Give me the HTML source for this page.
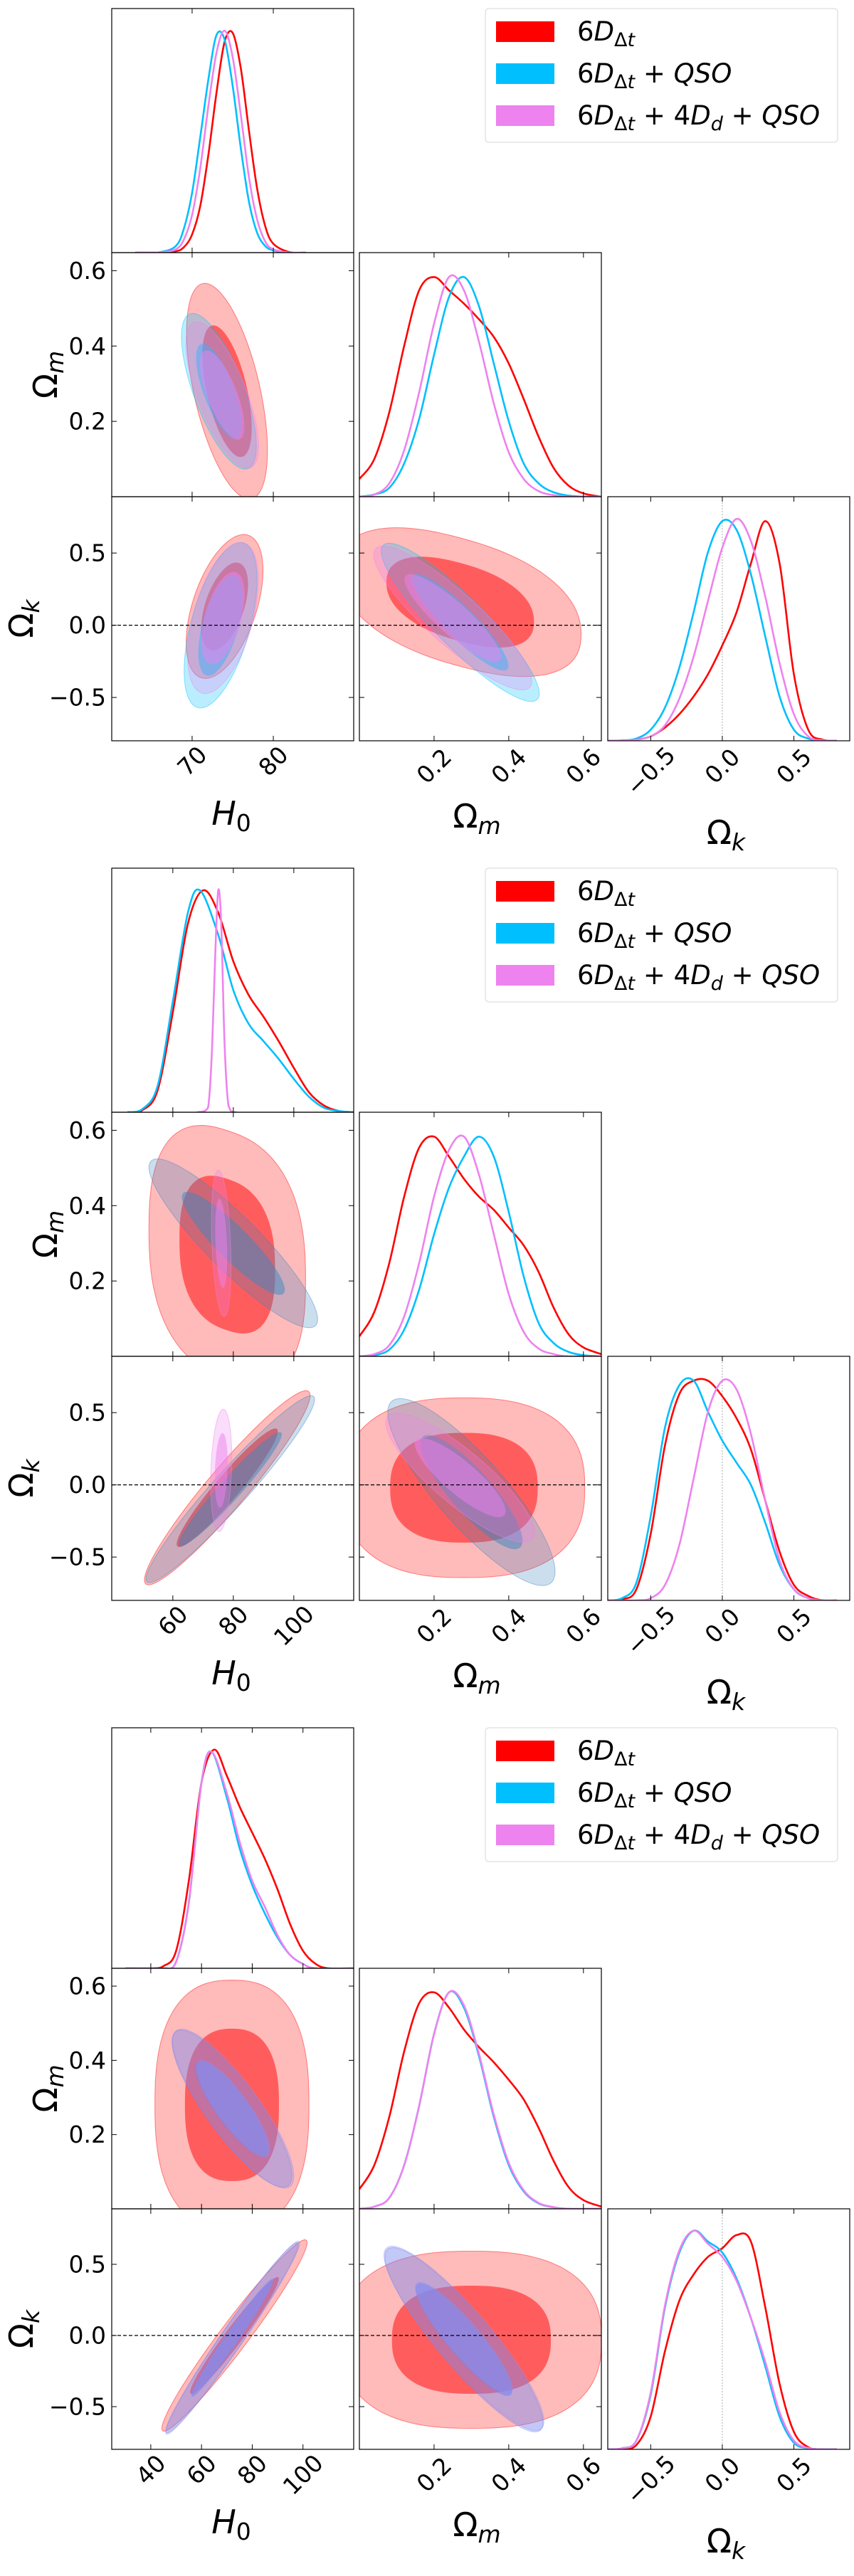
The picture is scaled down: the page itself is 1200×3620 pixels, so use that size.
<!DOCTYPE html>
<html><head><meta charset="utf-8"><style>
html,body{margin:0;padding:0;background:#fff;}
svg{display:block;font-family:"DejaVu Sans","Liberation Sans",sans-serif;}
</style></head><body>
<svg id="root" width="1200" height="3620" viewBox="0 0 1200 3620" xmlns="http://www.w3.org/2000/svg"></svg>
<script>
// ---------- DATA ----------
const figTops = [12, 1220, 2428];
const figPanelH = [343, 343, 338];
const h0Ranges = [[60.1, 89.9], [39.8, 119.8], [24.6, 120]];
const h0Ticks = [[70, 80], [60, 80, 100], [40, 60, 80, 100]];
const omRange = [0, 0.648];
const okRange = [-0.8, 0.89];
const omTicks = [0.2, 0.4, 0.6];
const okTicks = [-0.5, 0, 0.5];
const omTickLabels = ["0.2", "0.4", "0.6"];
const okTickLabels = ["\u22120.5", "0.0", "0.5"];
const seriesNames = ["red", "blue", "violet"];
const lineColors = ["#ff0000", "#00bfff", "#ee82ee"];
const fillColors = [["#ff0000", "#00bfff", "#ee82ee"], ["#ff0000", "#3f86c0", "#ee82ee"], ["#ff0000", "#7080ee", "#8a90f0"]];

// 1D marginals: [x, density] pairs
const f1_H0_red = [[63,0],[66,0.0002],[68,0.006],[69,0.025],[70,0.082],[71,0.21],[72,0.44],[73,0.72],[74,0.95],[75,0.99],[76,0.83],[77,0.55],[78,0.29],[79,0.12],[80,0.04],[82,0.002],[84,0]];
const f1_H0_blue = [[63,0],[66,0.002],[68,0.03],[69,0.11],[70,0.27],[71,0.52],[72,0.78],[73,0.98],[74,0.96],[75,0.75],[76,0.47],[77,0.23],[78,0.09],[79,0.03],[80,0.01],[82,0],[84,0]];
const f1_H0_violet = [[63,0],[66,0.001],[68,0.015],[69,0.06],[70,0.17],[71,0.38],[72,0.66],[73,0.9],[74,1],[75,0.88],[76,0.62],[77,0.34],[78,0.15],[79,0.05],[80,0.015],[82,0],[84,0]];
const f1_Om_red = [[0,0.08],[0.04,0.17],[0.08,0.38],[0.12,0.68],[0.16,0.93],[0.2,0.99],[0.24,0.93],[0.28,0.87],[0.32,0.8],[0.36,0.72],[0.4,0.6],[0.44,0.44],[0.48,0.27],[0.52,0.13],[0.56,0.05],[0.6,0.015],[0.648,0]];
const f1_Om_blue = [[0,0],[0.04,0.01],[0.08,0.04],[0.12,0.15],[0.16,0.35],[0.2,0.64],[0.24,0.9],[0.28,0.99],[0.32,0.86],[0.36,0.6],[0.4,0.34],[0.44,0.15],[0.48,0.06],[0.52,0.02],[0.56,0.005],[0.6,0],[0.648,0]];
const f1_Om_violet = [[0,0],[0.04,0.01],[0.08,0.06],[0.12,0.21],[0.16,0.47],[0.2,0.78],[0.24,0.99],[0.28,0.93],[0.32,0.7],[0.36,0.42],[0.4,0.2],[0.44,0.08],[0.48,0.025],[0.52,0.007],[0.56,0],[0.6,0],[0.648,0]];
const f1_Ok_red = [[-0.8,0],[-0.7,0.001],[-0.6,0.005],[-0.5,0.02],[-0.4,0.06],[-0.3,0.12],[-0.2,0.2],[-0.1,0.3],[0,0.43],[0.1,0.58],[0.2,0.8],[0.3,0.99],[0.4,0.8],[0.5,0.3],[0.6,0.05],[0.7,0.005],[0.8,0]];
const f1_Ok_blue = [[-0.8,0],[-0.7,0.002],[-0.6,0.01],[-0.5,0.05],[-0.4,0.15],[-0.3,0.33],[-0.2,0.58],[-0.1,0.85],[0,0.99],[0.1,0.95],[0.2,0.75],[0.3,0.47],[0.4,0.2],[0.5,0.05],[0.6,0.01],[0.7,0],[0.8,0]];
const f1_Ok_violet = [[-0.8,0],[-0.7,0.001],[-0.6,0.005],[-0.5,0.02],[-0.4,0.07],[-0.3,0.19],[-0.2,0.38],[-0.1,0.63],[0,0.87],[0.1,1],[0.2,0.9],[0.3,0.65],[0.4,0.35],[0.5,0.12],[0.6,0.02],[0.7,0.002],[0.8,0]];

const f2_H0_red = [[45,0],[50,0.01],[55,0.1],[60,0.45],[65,0.85],[70,1],[75,0.9],[80,0.68],[85,0.53],[90,0.43],[95,0.32],[100,0.2],[105,0.09],[110,0.03],[115,0.005],[120,0]];
const f2_H0_blue = [[45,0],[50,0.015],[55,0.12],[60,0.5],[65,0.9],[69,1],[75,0.8],[80,0.55],[85,0.4],[90,0.32],[95,0.24],[100,0.15],[105,0.07],[110,0.02],[115,0.005],[120,0]];
const f2_H0_violet = [[68,0],[71,0.01],[72,0.06],[73,0.3],[74,0.7],[75,1],[76,0.85],[77,0.35],[78,0.08],[79,0.01],[81,0]];
const f2_Om_red = [[0,0.09],[0.04,0.2],[0.08,0.42],[0.12,0.72],[0.16,0.94],[0.2,0.99],[0.24,0.9],[0.28,0.8],[0.32,0.72],[0.36,0.66],[0.4,0.58],[0.44,0.5],[0.48,0.38],[0.52,0.22],[0.56,0.1],[0.6,0.04],[0.648,0.01]];
const f2_Om_blue = [[0,0],[0.04,0.005],[0.08,0.03],[0.12,0.12],[0.16,0.3],[0.2,0.55],[0.24,0.76],[0.28,0.9],[0.32,0.99],[0.36,0.9],[0.4,0.65],[0.44,0.36],[0.48,0.15],[0.52,0.06],[0.56,0.02],[0.6,0.005],[0.648,0]];
const f2_Om_violet = [[0,0],[0.04,0.01],[0.08,0.05],[0.12,0.18],[0.16,0.42],[0.2,0.72],[0.24,0.93],[0.28,0.99],[0.32,0.82],[0.36,0.55],[0.4,0.28],[0.44,0.11],[0.48,0.035],[0.52,0.01],[0.56,0],[0.648,0]];
const f2_Ok_red = [[-0.8,0],[-0.7,0.005],[-0.6,0.05],[-0.5,0.3],[-0.4,0.7],[-0.3,0.93],[-0.2,0.99],[-0.1,0.99],[0,0.92],[0.1,0.82],[0.2,0.68],[0.3,0.45],[0.4,0.22],[0.5,0.07],[0.6,0.02],[0.7,0],[0.8,0]];
const f2_Ok_blue = [[-0.8,0],[-0.7,0.01],[-0.6,0.08],[-0.5,0.38],[-0.4,0.78],[-0.3,0.97],[-0.2,0.99],[-0.1,0.85],[0,0.72],[0.1,0.62],[0.2,0.52],[0.3,0.35],[0.4,0.16],[0.5,0.05],[0.6,0.01],[0.7,0],[0.8,0]];
const f2_Ok_violet = [[-0.8,0],[-0.6,0],[-0.5,0.01],[-0.4,0.07],[-0.3,0.25],[-0.2,0.55],[-0.1,0.85],[0,0.99],[0.1,0.95],[0.2,0.75],[0.3,0.45],[0.4,0.18],[0.5,0.05],[0.6,0.01],[0.7,0],[0.8,0]];

const f3_H0_red = [[30,0],[40,0],[45,0.01],[50,0.08],[55,0.4],[60,0.85],[65,1],[70,0.88],[75,0.74],[80,0.62],[85,0.5],[90,0.36],[95,0.2],[100,0.08],[105,0.02],[110,0],[120,0]];
const f3_H0_blue = [[30,0],[40,0],[45,0],[50,0.03],[55,0.3],[60,0.85],[64,0.99],[70,0.78],[75,0.55],[80,0.38],[85,0.25],[90,0.14],[95,0.06],[100,0.02],[105,0],[120,0]];
const f3_H0_violet = [[30,0],[40,0],[45,0],[50,0.03],[55,0.3],[60,0.85],[64,0.99],[70,0.8],[75,0.58],[80,0.4],[85,0.28],[90,0.15],[95,0.06],[100,0.02],[105,0],[120,0]];
const f3_Om_red = [[0,0.09],[0.04,0.2],[0.08,0.42],[0.12,0.72],[0.16,0.94],[0.2,0.99],[0.24,0.92],[0.28,0.82],[0.32,0.74],[0.36,0.67],[0.4,0.59],[0.44,0.5],[0.48,0.37],[0.52,0.22],[0.56,0.1],[0.6,0.04],[0.648,0.01]];
const f3_Om_blue = [[0,0],[0.04,0.01],[0.08,0.05],[0.12,0.2],[0.16,0.47],[0.2,0.8],[0.24,0.99],[0.28,0.92],[0.32,0.7],[0.36,0.42],[0.4,0.2],[0.44,0.08],[0.48,0.025],[0.52,0.007],[0.56,0],[0.648,0]];
const f3_Om_violet = [[0,0],[0.04,0.01],[0.08,0.05],[0.12,0.2],[0.16,0.47],[0.2,0.8],[0.24,0.99],[0.28,0.93],[0.32,0.71],[0.36,0.43],[0.4,0.21],[0.44,0.085],[0.48,0.027],[0.52,0.008],[0.56,0],[0.648,0]];
const f3_Ok_red = [[-0.8,0],[-0.7,0.002],[-0.6,0.02],[-0.5,0.15],[-0.4,0.45],[-0.3,0.68],[-0.2,0.8],[-0.1,0.88],[0,0.92],[0.1,0.98],[0.2,0.95],[0.3,0.65],[0.4,0.3],[0.5,0.08],[0.6,0.01],[0.7,0],[0.8,0]];
const f3_Ok_blue = [[-0.8,0],[-0.7,0.005],[-0.6,0.04],[-0.5,0.25],[-0.4,0.65],[-0.3,0.9],[-0.2,1],[-0.1,0.95],[0,0.9],[0.1,0.78],[0.2,0.6],[0.3,0.38],[0.4,0.15],[0.5,0.03],[0.6,0.005],[0.7,0],[0.8,0]];
const f3_Ok_violet = [[-0.8,0],[-0.7,0.005],[-0.6,0.04],[-0.5,0.26],[-0.4,0.66],[-0.3,0.91],[-0.2,1],[-0.1,0.94],[0,0.88],[0.1,0.77],[0.2,0.6],[0.3,0.4],[0.4,0.17],[0.5,0.04],[0.6,0.006],[0.7,0],[0.8,0]];

// 2D contours: [centerX, centerY, sigmaX, sigmaY, correlation, squareness]
const f1_H0Om = [[74.3,0.28,2.0,0.115,-0.55,2],[73.3,0.28,1.85,0.083,-0.7,2],[73.7,0.27,1.8,0.078,-0.7,2]];
const f1_H0Ok = [[74.0,0.13,1.9,0.2,0.5,2],[73.5,0.0,1.8,0.23,0.55,2],[73.8,0.05,1.75,0.21,0.5,2]];
const f1_OmOk = [[0.27,0.16,0.13,0.2,-0.45,2.3],[0.27,0.02,0.085,0.22,-0.9,2],[0.25,0.05,0.085,0.2,-0.88,2]];
const f2_H0Om = [[78,0.27,10.4,0.135,-0.2,2.5],[80,0.3,11.2,0.09,-0.9,2],[76,0.3,1.3,0.078,-0.3,2]];
const f2_H0Ok = [[78,-0.02,11,0.27,0.95,2],[79,-0.03,11.2,0.26,0.96,2],[76,0.1,1.4,0.17,0.2,2]];
const f2_OmOk = [[0.28,-0.02,0.13,0.25,0,2.5],[0.3,-0.05,0.09,0.26,-0.85,2],[0.27,0.05,0.08,0.18,-0.85,2]];
const f3_H0Om = [[72,0.28,12.2,0.135,0,2.5],[72,0.27,9.5,0.085,-0.85,2],[72.5,0.27,9.6,0.086,-0.85,2]];
const f3_H0Ok = [[73,0,11.5,0.27,0.97,2],[72,-0.02,10.5,0.27,0.98,2],[72.3,-0.01,10.6,0.27,0.98,2]];
const f3_OmOk = [[0.3,-0.03,0.14,0.25,0,2.5],[0.28,-0.03,0.085,0.26,-0.9,2],[0.28,-0.02,0.086,0.26,-0.9,2]];

const marg = [[f1_H0_red,f1_H0_blue,f1_H0_violet],[f2_H0_red,f2_H0_blue,f2_H0_violet],[f3_H0_red,f3_H0_blue,f3_H0_violet]];
const margOm = [[f1_Om_red,f1_Om_blue,f1_Om_violet],[f2_Om_red,f2_Om_blue,f2_Om_violet],[f3_Om_red,f3_Om_blue,f3_Om_violet]];
const margOk = [[f1_Ok_red,f1_Ok_blue,f1_Ok_violet],[f2_Ok_red,f2_Ok_blue,f2_Ok_violet],[f3_Ok_red,f3_Ok_blue,f3_Ok_violet]];
const cH0Om = [f1_H0Om, f2_H0Om, f3_H0Om];
const cH0Ok = [f1_H0Ok, f2_H0Ok, f3_H0Ok];
const cOmOk = [f1_OmOk, f2_OmOk, f3_OmOk];

// ---------- DRAWING ----------
const NS = "http://www.w3.org/2000/svg";
const root = document.getElementById('root');
function mk(tag, attrs, parent) {
  const e = document.createElementNS(NS, tag);
  for (const k in attrs) e.setAttribute(k, attrs[k]);
  (parent || root).appendChild(e);
  return e;
}
const colX = [[157, 497], [505, 845], [854, 1194]];
function scale(d0, d1, p0, p1) { return v => p0 + (v - d0) / (d1 - d0) * (p1 - p0); }
function smooth(pts) {
  let d = "M" + pts[0][0].toFixed(2) + "," + pts[0][1].toFixed(2);
  for (let i = 0; i < pts.length - 1; i++) {
    const p0 = pts[Math.max(i - 1, 0)], p1 = pts[i], p2 = pts[i + 1], p3 = pts[Math.min(i + 2, pts.length - 1)];
    const c1 = [p1[0] + (p2[0] - p0[0]) / 6, p1[1] + (p2[1] - p0[1]) / 6];
    const c2 = [p2[0] - (p3[0] - p1[0]) / 6, p2[1] - (p3[1] - p1[1]) / 6];
    d += "C" + c1[0].toFixed(2) + "," + c1[1].toFixed(2) + " " + c2[0].toFixed(2) + "," + c2[1].toFixed(2) + " " + p2[0].toFixed(2) + "," + p2[1].toFixed(2);
  }
  return d;
}
function contourPath(c, k, sx, sy) {
  const [cx, cy, sdx, sdy, rho, p] = c;
  let d = "";
  for (let i = 0; i <= 120; i++) {
    const t = i / 120 * Math.PI * 2;
    const co = Math.cos(t), si = Math.sin(t);
    const u = Math.sign(co) * Math.pow(Math.abs(co), 2 / p);
    const v = Math.sign(si) * Math.pow(Math.abs(si), 2 / p);
    const x = cx + k * sdx * u;
    const y = cy + k * sdy * (rho * u + Math.sqrt(1 - rho * rho) * v);
    d += (i ? "L" : "M") + sx(x).toFixed(2) + "," + sy(y).toFixed(2);
  }
  return d + "Z";
}
let clipId = 0;
function panelFrame(g, x0, y0, x1, y1) {
  mk('rect', {x: x0, y: y0, width: x1 - x0, height: y1 - y0, fill: 'none', stroke: '#000', 'stroke-width': 1.2}, g);
}
function xTicks(g, ticks, sx, y0, y1) {
  ticks.forEach(t => {
    const x = sx(t);
    mk('line', {x1: x, x2: x, y1: y1, y2: y1 - 7, stroke: '#000', 'stroke-width': 1}, g);
    mk('line', {x1: x, x2: x, y1: y0, y2: y0 + 7, stroke: '#000', 'stroke-width': 1}, g);
  });
}
function yTicks(g, ticks, sy, x0, x1) {
  ticks.forEach(t => {
    const y = sy(t);
    mk('line', {x1: x0, x2: x0 + 7, y1: y, y2: y, stroke: '#000', 'stroke-width': 1}, g);
    mk('line', {x1: x1, x2: x1 - 7, y1: y, y2: y, stroke: '#000', 'stroke-width': 1}, g);
  });
}
function clipFor(g, x0, y0, x1, y1) {
  const id = 'clip' + (clipId++);
  const cp = mk('clipPath', {id: id}, g);
  mk('rect', {x: x0, y: y0, width: x1 - x0, height: y1 - y0}, cp);
  return mk('g', {'clip-path': 'url(#' + id + ')'}, g);
}
function draw1D(g, curves, xr, x0, y0, x1, y1, vline) {
  const sx = scale(xr[0], xr[1], x0, x1);
  const sy = scale(0, 1.1, y1, y0);
  const cg = clipFor(g, x0, y0, x1, y1);
  if (vline) {
    const vl = mk('line', {x1: sx(0), x2: sx(0), y1: y0, y2: y1, stroke: '#999', 'stroke-width': 0.8, 'stroke-dasharray': '2,2'}, cg);
    
    
  }
  curves.forEach((c, i) => {
    const pts = c.map(p => [sx(p[0]), sy(p[1])]);
    const el = mk('path', {d: smooth(pts), fill: 'none', stroke: lineColors[i], 'stroke-width': 2.6}, cg);
    
    
  });
  return sx;
}
function draw2D(g, cons, fig, xr, yr, x0, y0, x1, y1, hline) {
  const sx = scale(xr[0], xr[1], x0, x1);
  const sy = scale(yr[0], yr[1], y1, y0);
  const cg = clipFor(g, x0, y0, x1, y1);
  cons.forEach((c, i) => {
    const col = fillColors[fig][i];
    const o = mk('path', {d: contourPath(c, 2.49, sx, sy), fill: col, 'fill-opacity': 0.27, stroke: col, 'stroke-opacity': 0.45, 'stroke-width': 1}, cg);
    
    
    const n = mk('path', {d: contourPath(c, 1.52, sx, sy), fill: col, 'fill-opacity': 0.5}, cg);
    
    
  });
  if (hline) {
    const hl = mk('line', {x1: x0, x2: x1, y1: sy(0), y2: sy(0), stroke: '#000', 'stroke-width': 1.3, 'stroke-dasharray': '5,3'}, cg);
    
    
  }
  return [sx, sy];
}
function xTickLabels(g, ticks, labels, sx, yb) {
  ticks.forEach((t, i) => {
    const len = labels[i].length;
    const w = len * 0.6 * 33;
    const off = 6 + (w + 24) * 0.707 / 2;
    const cx = sx(t), cy = yb + off;
    const tx = mk('text', {x: cx, y: cy, 'font-size': 33, 'text-anchor': 'middle', 'dominant-baseline': 'central', transform: 'rotate(-45 ' + cx + ' ' + cy + ')'}, g);
    tx.textContent = labels[i];
    
    
  });
}
function yTickLabels(g, ticks, labels, sy, xl) {
  ticks.forEach((t, i) => {
    const tx = mk('text', {x: xl - 8, y: sy(t), 'font-size': 33, 'text-anchor': 'end', 'dominant-baseline': 'central'}, g);
    tx.textContent = labels[i];
    
    
  });
}
function mathLabel(g, x, y, sym, sub, italicSym, rot, name) {
  const attrs = {x: x, y: y, 'font-size': 46, 'text-anchor': 'middle'};
  if (rot) attrs.transform = 'rotate(-90 ' + x + ' ' + y + ')';
  const t = mk('text', attrs, g);
  
  
  const a = mk('tspan', {'font-style': italicSym ? 'italic' : 'normal'}, t); a.textContent = sym;
  const b = mk('tspan', {'font-size': 33, dy: 9, 'font-style': sub === '0' ? 'normal' : 'italic'}, t); b.textContent = sub;
}
function legend(g, top) {
  const lg = mk('g', {}, g);
  
  
  mk('rect', {x: 682, y: top, width: 495, height: 188, rx: 5, fill: '#fff', stroke: '#ddd', 'stroke-width': 1.2}, lg);
  const texts = [[['6', 'n'], ['D', 'i'], ['\u0394', 's'], ['t', 'si']], [['6', 'n'], ['D', 'i'], ['\u0394', 's'], ['t', 'si'], [' + ', 'n'], ['QSO', 'i']], [['6', 'n'], ['D', 'i'], ['\u0394', 's'], ['t', 'si'], [' + 4', 'n'], ['D', 'i'], ['d', 'si'], [' + ', 'n'], ['QSO', 'i']]];
  texts.forEach((parts, i) => {
    const yc = top + 32 + i * 59;
    const sw = mk('rect', {x: 697, y: yc - 14, width: 82, height: 29, fill: lineColors[i]}, lg);
    
    
    const t = mk('text', {x: 811, y: yc + 13, 'font-size': 37}, lg);
    
    
    let inSub = false;
    parts.forEach(p => {
      const isSub = p[1].indexOf('s') >= 0;
      const at = {'font-style': p[1].indexOf('i') >= 0 ? 'italic' : 'normal', 'xml:space': 'preserve'};
      if (isSub) { at['font-size'] = 27; if (!inSub) at.dy = 8; }
      else if (inSub) at.dy = -8;
      inSub = isSub;
      const s = mk('tspan', at, t);
      s.textContent = p[0];
    });
  });
}

figTops.forEach((top, f) => {
  const H = figPanelH[f];
  const g = mk('g', {});
  
  
  const r0 = top, r1 = top + H, r2 = top + 2 * H, r3 = top + 3 * H;
  const h0r = h0Ranges[f];
  const p11 = mk('g', {}, g);  
  const sxH = draw1D(p11, marg[f], h0r, colX[0][0], r0, colX[0][1], r1, false);
  xTicks(p11, h0Ticks[f], sxH, r0, r1);
  panelFrame(p11, colX[0][0], r0, colX[0][1], r1);
  const p21 = mk('g', {}, g);  
  const [sx21, sy21] = draw2D(p21, cH0Om[f], f, h0r, omRange, colX[0][0], r1, colX[0][1], r2, false);
  xTicks(p21, h0Ticks[f], sx21, r1, r2); yTicks(p21, omTicks, sy21, colX[0][0], colX[0][1]);
  panelFrame(p21, colX[0][0], r1, colX[0][1], r2);
  yTickLabels(g, omTicks, omTickLabels, sy21, colX[0][0]);
  const p22 = mk('g', {}, g);  
  const sxOm = draw1D(p22, margOm[f], omRange, colX[1][0], r1, colX[1][1], r2, false);
  xTicks(p22, omTicks, sxOm, r1, r2);
  panelFrame(p22, colX[1][0], r1, colX[1][1], r2);
  const p31 = mk('g', {}, g);  
  const [sx31, sy31] = draw2D(p31, cH0Ok[f], f, h0r, okRange, colX[0][0], r2, colX[0][1], r3, true);
  xTicks(p31, h0Ticks[f], sx31, r2, r3); yTicks(p31, okTicks, sy31, colX[0][0], colX[0][1]);
  panelFrame(p31, colX[0][0], r2, colX[0][1], r3);
  yTickLabels(g, okTicks, okTickLabels, sy31, colX[0][0]);
  const p32 = mk('g', {}, g);  
  const [sx32, sy32] = draw2D(p32, cOmOk[f], f, omRange, okRange, colX[1][0], r2, colX[1][1], r3, true);
  xTicks(p32, omTicks, sx32, r2, r3); yTicks(p32, okTicks, sy32, colX[1][0], colX[1][1]);
  panelFrame(p32, colX[1][0], r2, colX[1][1], r3);
  const p33 = mk('g', {}, g);  
  const sxOk = draw1D(p33, margOk[f], okRange, colX[2][0], r2, colX[2][1], r3, true);
  xTicks(p33, okTicks, sxOk, r2, r3);
  panelFrame(p33, colX[2][0], r2, colX[2][1], r3);
  xTickLabels(g, h0Ticks[f], h0Ticks[f].map(String), sx31, r3);
  xTickLabels(g, omTicks, omTickLabels, sx32, r3);
  xTickLabels(g, okTicks, okTickLabels, sxOk, r3);
  mathLabel(g, 325, r3 + 118, 'H', '0', true, false, 'x-axis-title-h0');
  mathLabel(g, 670, r3 + 122, '\u03a9', 'm', false, false, 'x-axis-title-omega-m');
  mathLabel(g, 1020, r3 + 145, '\u03a9', 'k', false, false, 'x-axis-title-omega-k');
  mathLabel(g, 80, (r1 + r2) / 2, '\u03a9', 'm', false, true, 'y-axis-title-omega-m');
  mathLabel(g, 46, (r2 + r3) / 2, '\u03a9', 'k', false, true, 'y-axis-title-omega-k');
  legend(g, top);
});
</script>
</body></html>
